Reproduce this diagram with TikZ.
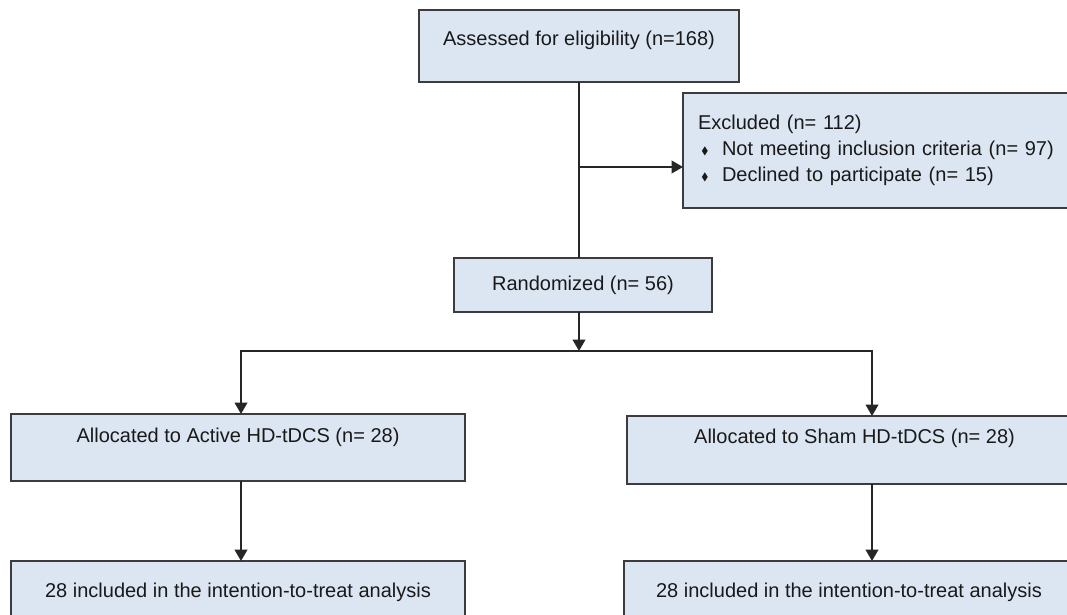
\documentclass[tikz,border=0pt]{standalone}
\usepackage{fontspec}
\usepackage{amssymb}
\setmainfont{Liberation Sans}
\usetikzlibrary{arrows.meta}
\definecolor{boxfill}{RGB}{220,230,242}
\definecolor{boxline}{RGB}{60,60,60}
\newcommand{\exclitem}{\makebox[18pt][l]{\hspace{2.5pt}\raisebox{1pt}{\footnotesize$\blacklozenge$}}}
\begin{document}
\begin{tikzpicture}[x=0.75pt,y=-0.75pt,inner sep=0pt,outer sep=0pt,line width=1.2pt,
flowbox/.style={draw=boxline,fill=boxfill,rectangle,text=black!90,font=\fontsize{15}{19.5}\selectfont,text height=11pt,text depth=3pt},
flowarrow/.style={-{Triangle[width=9.5pt,length=8.5pt]},draw=black!85}]
\useasboundingbox (0,0) rectangle (1067,614);
\clip (0,0) rectangle (1067,614);

\draw (579,46) node[flowbox,minimum width=240pt,minimum height=54pt,text depth=12.5pt] (assess) {Assessed for eligibility (n=168)};
\draw (683,93) node[flowbox,anchor=north west,minimum height=86.25pt,text width=292.5pt,inner xsep=11.25pt,align=left,text height=,text depth=] (excl)
  {Excluded (n= 112)\\ \exclitem Not meeting inclusion criteria (n= 97)\\ \exclitem Declined to participate (n= 15)};
\draw (583,285) node[flowbox,minimum width=193.5pt,minimum height=40.5pt] (rand) {Randomized (n= 56)};
\draw (238,447.5) node[flowbox,minimum width=340.5pt,minimum height=50.25pt,text depth=19.25pt] (activ) {Allocated to Active HD-tDCS (n= 28)};
\draw (854.5,450) node[flowbox,minimum width=341.25pt,minimum height=51pt,text depth=21.5pt] (sham) {Allocated to Sham HD-tDCS (n= 28)};
\draw (238,594.5) node[flowbox,minimum width=340.5pt,minimum height=50.25pt,text depth=7pt] (activitt) {28 included in the intention-to-treat analysis};
\draw (849,594.5) node[flowbox,minimum width=337.5pt,minimum height=50.25pt,text depth=7pt] (shamitt) {28 included in the intention-to-treat analysis};

\coordinate (split) at (579,167);
\coordinate (fork) at (579,351);
\coordinate (ldrop) at (241,351);
\coordinate (rdrop) at (872,351);

\draw[draw=black!85] (assess.south) -- (assess.south |- rand.north);
\draw[flowarrow] (split) -- (split -| excl.west);
\draw[flowarrow] (fork |- rand.south) -- (fork);
\draw[flowarrow] (fork) -| (ldrop |- activ.north);
\draw[flowarrow] (fork) -| (rdrop |- sham.north);
\draw[flowarrow] (ldrop |- activ.south) -- (ldrop |- activitt.north);
\draw[flowarrow] (rdrop |- sham.south) -- (rdrop |- shamitt.north);
\end{tikzpicture}
\end{document}
